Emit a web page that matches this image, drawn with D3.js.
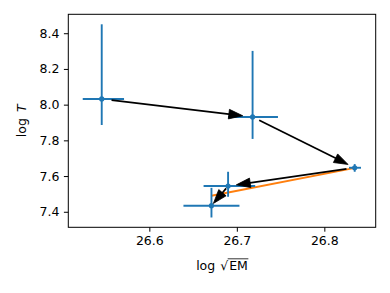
<!DOCTYPE html>
<html>
<head>
<meta charset="utf-8">
<script src="https://cdn.jsdelivr.net/npm/d3@7"></script>
<style>
  html, body { margin: 0; padding: 0; background: #fff; }
  svg { display: block; }
  text { font-family: "DejaVu Sans", sans-serif; }
</style>
</head>
<body>
<svg id="chart" width="390" height="293"></svg>
<script>
// ---- data ----
const logEM    = [26.5456, 26.718, 26.8347, 26.690, 26.671];
const logT     = [8.032, 7.931, 7.6465, 7.544, 7.434];
const emErrLo  = [0.0217, 0.028, 0.0065, 0.028, 0.032];
const emErrHi  = [0.0255, 0.029, 0.0072, 0.031, 0.032];
const tErrLo   = [0.146, 0.123, 0.0225, 0.060, 0.066];
const tErrHi   = [0.418, 0.370, 0.0205, 0.080, 0.100];
const fitEM    = [26.671, 26.835];
const fitT     = [7.49, 7.646];
const arrowFrom = [0, 1, 2, 3];
const arrowTo   = [1, 2, 3, 4];
const xTicks = [26.6, 26.7, 26.8];
const yTicks = [7.4, 7.6, 7.8, 8.0, 8.2, 8.4];

// ---- layout ----
const svg = d3.select("#chart");
const L = 68.3, R = 375.7, T = 14.3, B = 227.3;
const x = d3.scaleLinear().domain([26.5074, 26.8587]).range([L, R]);
const y = d3.scaleLinear().domain([7.313, 8.506]).range([B, T]);
const blue = "#1f77b4", orange = "#ff7f0e";
const fs = "12.5px";

// axes
const xAxis = svg.append("g").attr("transform", `translate(0,${B})`)
  .call(d3.axisBottom(x).tickValues(xTicks).tickFormat(d3.format(".1f")).tickSizeOuter(0).tickSize(4.4).tickPadding(4.4));
const yAxis = svg.append("g").attr("transform", `translate(${L},0)`)
  .call(d3.axisLeft(y).tickValues(yTicks).tickFormat(d3.format(".1f")).tickSizeOuter(0).tickSize(4.4).tickPadding(4.4));
[xAxis, yAxis].forEach(g => {
  g.select(".domain").remove();
  g.selectAll("line").attr("stroke", "#000").attr("stroke-width", 1);
  g.selectAll("text").attr("font-size", fs).attr("fill", "#000")
    .attr("font-family", "DejaVu Sans, sans-serif");
});

// orange fit line
svg.append("path")
  .datum(fitEM.map((d, i) => [d, fitT[i]]))
  .attr("d", d3.line().x(d => x(d[0])).y(d => y(d[1])))
  .attr("fill", "none").attr("stroke", orange).attr("stroke-width", 1.9);

// error bars
const pts = logEM.map((d, i) => ({ i, em: d, t: logT[i] }));
const eb = svg.append("g");
eb.selectAll(".v").data(pts).join("line")
  .attr("x1", d => x(d.em)).attr("x2", d => x(d.em))
  .attr("y1", d => y(d.t - tErrLo[d.i])).attr("y2", d => y(d.t + tErrHi[d.i]))
  .attr("stroke", blue).attr("stroke-width", 1.9);
eb.selectAll(".h").data(pts).join("line")
  .attr("x1", d => x(d.em - emErrLo[d.i])).attr("x2", d => x(d.em + emErrHi[d.i]))
  .attr("y1", d => y(d.t)).attr("y2", d => y(d.t))
  .attr("stroke", blue).attr("stroke-width", 1.9);
eb.selectAll("circle").data(pts).join("circle")
  .attr("cx", d => x(d.em)).attr("cy", d => y(d.t)).attr("r", 2.6)
  .attr("fill", blue);

// arrows
const ag = svg.append("g");
arrowFrom.forEach((a, k) => {
  const b = arrowTo[k];
  const x0 = x(logEM[a]), y0 = y(logT[a]);
  const x1 = x(logEM[b]), y1 = y(logT[b]);
  const dx = x1 - x0, dy = y1 - y0, len = Math.hypot(dx, dy);
  const ux = dx / len, uy = dy / len;
  const shrink = Math.max(3, 0.065 * len);
  const sx = x0 + ux * shrink, sy = y0 + uy * shrink;
  const tx = x1 - ux * shrink, ty = y1 - uy * shrink;
  const hl = 14, hw = 4.8;
  const bx = tx - ux * hl, by = ty - uy * hl;
  ag.append("line").attr("x1", sx).attr("y1", sy).attr("x2", bx + ux * 2).attr("y2", by + uy * 2)
    .attr("stroke", "#000").attr("stroke-width", 1.7);
  ag.append("path")
    .attr("d", `M${tx},${ty}L${bx - uy * hw},${by + ux * hw}L${bx + uy * hw},${by - ux * hw}Z`)
    .attr("fill", "#000").attr("stroke", "#000").attr("stroke-width", 0.8).attr("stroke-linejoin", "miter");
});

// frame
svg.append("rect").attr("x", L).attr("y", T).attr("width", R - L).attr("height", B - T)
  .attr("fill", "none").attr("stroke", "#000").attr("stroke-width", 1);

// y label: log T
const yl = svg.append("text").attr("transform", `translate(26,${(T + B) / 2}) rotate(-90)`)
  .attr("text-anchor", "middle").attr("font-size", fs).attr("fill", "#000");
yl.append("tspan").text("log");
yl.append("tspan").attr("font-style", "italic").attr("dx", 6).text("T");

// x label: log √EM
const xlY = 270;
const gx = svg.append("g");
const t1 = gx.append("text").attr("font-size", fs).attr("y", xlY).text("log");
const t2 = gx.append("text").attr("font-size", fs).attr("y", xlY).text("√");
const t3 = gx.append("text").attr("font-size", fs).attr("y", xlY).text("EM");
const w1 = t1.node().getComputedTextLength();
const w2 = t2.node().getComputedTextLength();
const w3 = t3.node().getComputedTextLength();
const gap = 5;
const total = w1 + gap + w2 + w3 + 1;
const sx0 = (L + R) / 2 - total / 2;
t1.attr("x", sx0);
t2.attr("x", sx0 + w1 + gap);
t3.attr("x", sx0 + w1 + gap + w2 + 1);
gx.append("line")
  .attr("x1", sx0 + w1 + gap + w2 - 0.5).attr("x2", sx0 + w1 + gap + w2 + 1 + w3 + 0.5)
  .attr("y1", xlY - 11.2).attr("y2", xlY - 11.2)
  .attr("stroke", "#000").attr("stroke-width", 0.8);
</script>
</body>
</html>
